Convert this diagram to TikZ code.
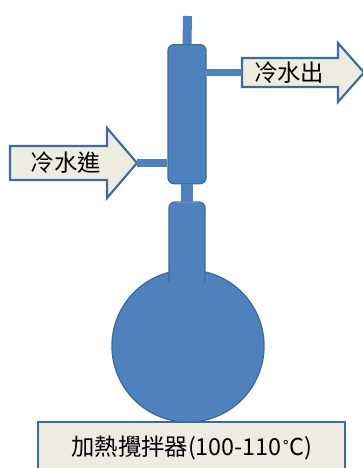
\documentclass[tikz,border=0pt]{standalone}
\usepackage{fontspec}
\setmainfont{Noto Sans CJK TC}
\newfontfamily\symfont{DejaVu Sans}
\usepackage{tikz}
\usetikzlibrary{positioning}

\definecolor{glassblue}{HTML}{4F81BD}
\definecolor{glassedge}{HTML}{3F6A9C}
\definecolor{boxfill}{HTML}{EEECE1}

\tikzset{
  glass/.style={fill=glassblue, draw=glassedge, line width=1pt, rounded corners=4.5pt, inner sep=0pt},
  tube/.style={glassblue, line width=#1},
  tube/.default=6pt,
  tag/.style={fill=boxfill, draw=glassedge, line width=1.6pt, line join=miter},
  label/.style={font=\fontsize{17.5}{20}\selectfont, inner sep=0pt}
}

\begin{document}
\begin{tikzpicture}[x=0.75pt,y=-0.75pt]
  \useasboundingbox (0,0) rectangle (363,468);
  % ---- hot plate ----
  \draw[tag] (38,422) rectangle (345,480);
  \node[label] (heater) at (192,448) {加熱攪拌器(100-110{\symfont\fontsize{12}{14}\selectfont\raisebox{1pt}{˚}}C)};
  % ---- flask ----
  \node[circle, fill=glassblue, draw=glassedge, line width=1pt, minimum size=114pt, inner sep=0pt] (flask) at (188,346) {};
  \node[glass, draw=none, minimum width=27pt, minimum height=75pt, anchor=north] (neck) at (187,202) {};
  \draw[glassedge, line width=1pt, rounded corners=4.5pt] (169,282) -- (169,202) -- (205,202) -- (205,282);
  % ---- condenser ----
  \coordinate (top) at (187.5,16);
  \node[glass, minimum width=28.5pt, minimum height=104.25pt, anchor=north] (cond) at (187,44) {};
  \draw[tube=6.75pt] (top) -- (cond.north);
  \draw[tube=9pt] (cond.south) -- (neck.north);
  % ---- water in ----
  \draw[tag] (10,146) -- (107,146) -- (107,128) -- (137,163) -- (107,198) -- (107,180) -- (10,180) -- cycle;
  \coordinate (intip) at (137,163);
  \node[label] (inlet) at (66,163) {冷水進};
  \draw[tube=5.5pt] (intip) -- (intip -| cond.west);
  % ---- water out ----
  \draw[tag] (242,58) -- (338,58) -- (338,43) -- (364,72.5) -- (338,102) -- (338,87) -- (242,87) -- cycle;
  \coordinate (outtail) at (242,72.5);
  \node[label] (outlet) at (289,72.5) {冷水出};
  \draw[tube=5.5pt] (outtail -| cond.east) -- (outtail);
\end{tikzpicture}
\end{document}
